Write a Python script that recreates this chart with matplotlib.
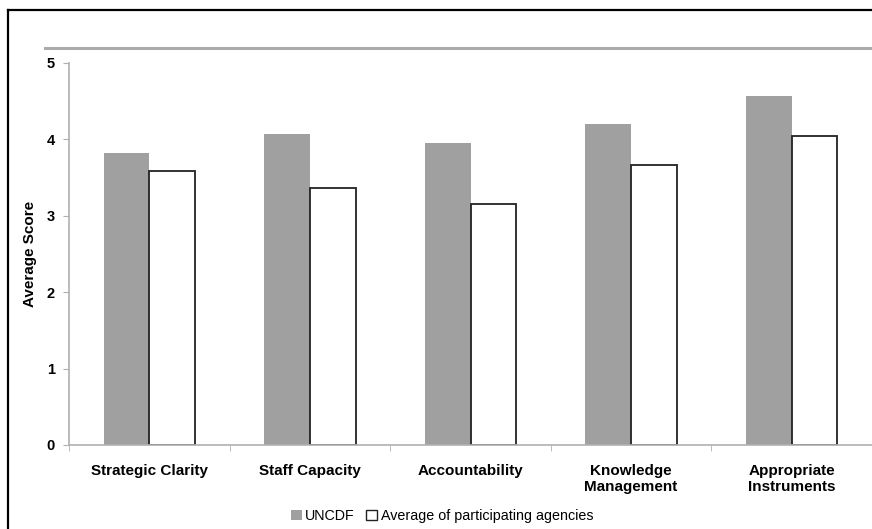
import matplotlib
matplotlib.use("Agg")
import matplotlib.pyplot as plt
from matplotlib.lines import Line2D
from matplotlib.patches import Patch
import numpy as np

plt.rcParams["font.family"] = ["Liberation Sans", "DejaVu Sans"]

categories = ["Strategic Clarity", "Staff Capacity", "Accountability",
              "Knowledge\nManagement", "Appropriate\nInstruments"]
uncdf = [3.82, 4.07, 3.95, 4.20, 4.57]
average = [3.58, 3.37, 3.16, 3.66, 4.05]

fig = plt.figure(figsize=(8.72, 5.29), dpi=100)
ax = fig.add_axes([69 / 872, 84 / 529, 803 / 872, 382 / 529])

x = np.arange(len(categories))
w = 0.285
ax.bar(x - w / 2, uncdf, w, color="#a0a0a0", edgecolor="none", label="UNCDF")
ax.bar(x + w / 2, average, w, color="white", edgecolor="#222222", linewidth=1.3,
       label="Average of participating agencies")

ax.set_xlim(-0.5, len(categories) - 0.5)
ax.set_ylim(0, 5)
ax.set_yticks(range(6))
ax.set_xticks(x)
ax.set_xticklabels(categories, fontsize=11, fontweight="bold", linespacing=1.15)
ax.set_xticks(np.arange(len(categories)) - 0.5, minor=True)
ax.tick_params(axis="x", which="major", length=0, pad=14)
ax.tick_params(axis="x", which="minor", length=4, color="#b0b0b0", direction="out")
ax.tick_params(axis="y", length=4, color="#b0b0b0", labelsize=10.5, pad=6)
for lab in ax.get_yticklabels():
    lab.set_fontweight("bold")
for s in ["top", "right"]:
    ax.spines[s].set_visible(False)
for s in ["left", "bottom"]:
    ax.spines[s].set_color("#b0b0b0")
    ax.spines[s].set_linewidth(1.2)

ax.set_ylabel("Average Score", fontsize=11, fontweight="bold")
ax.yaxis.set_label_coords((37 - 69) / 803, 0.5)

# gray separator line above the plot
fig.add_artist(Line2D([45 / 872, 1.0], [1 - 48 / 529] * 2, color="#ababab",
                      linewidth=2.2, transform=fig.transFigure))
# frame lines (top and left)
fig.add_artist(Line2D([8 / 872, 1.0], [1 - 10 / 529] * 2, color="black",
                      linewidth=1.6, transform=fig.transFigure))
fig.add_artist(Line2D([8 / 872] * 2, [0, 1 - 10 / 529], color="black",
                      linewidth=1.6, transform=fig.transFigure))

handles = [Patch(facecolor="#a0a0a0", edgecolor="none", label="UNCDF"),
           Patch(facecolor="white", edgecolor="#222222", linewidth=1.0,
                 label="Average of participating agencies")]
fig.legend(handles=handles, loc="center", bbox_to_anchor=(442 / 872, 1 - 516 / 529),
           ncol=2, frameon=False, fontsize=10.3, handlelength=0.75, handleheight=0.75,
           handletextpad=0.25, columnspacing=0.8)

fig.savefig("out.png", dpi=100)
